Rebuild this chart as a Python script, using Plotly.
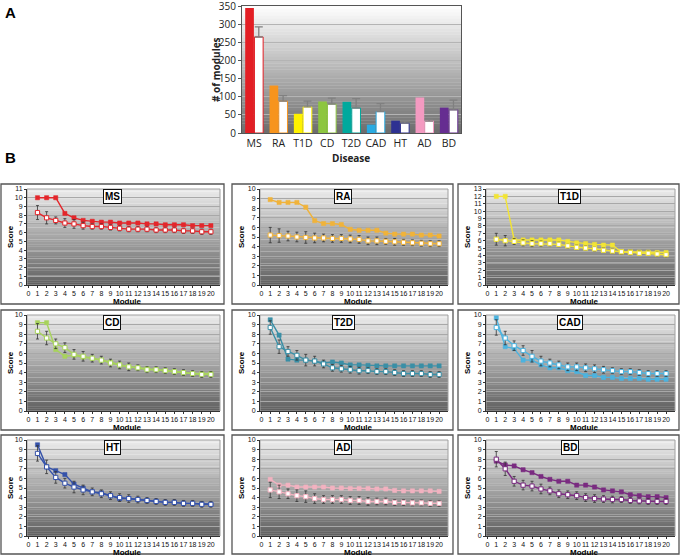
import plotly.graph_objects as go

W, H = 680, 556

# ---------------- Panel A data ----------------
diseases = ["MS", "RA", "T1D", "CD", "T2D", "CAD", "HT", "AD", "BD"]
observed_modules = [345, 131, 53, 87, 86, 23, 34, 98, 70]
random_modules = [265, 88, 72, 80, 69, 59, 27, 33, 64]
random_modules_err = [28, 15, 16, 16, 26, 22, 6, 5, 27]
y_ticks_a = [0, 50, 100, 150, 200, 250, 300, 350]
bar_colors = ["#e31e24", "#f7941d", "#fff200", "#8dc63f", "#00a99d",
              "#29abe2", "#2e3192", "#f49ac1", "#662d91"]

# ---------------- Panel B data ----------------
modules = list(range(1, 21))
x_ticks = list(range(0, 21))

ms_obs = [10, 10, 10, 8.2, 7.7, 7.4, 7.3, 7.2, 7.2, 7.1, 7.1, 7.1, 7.0, 7.0, 6.9, 6.9, 6.9, 6.8, 6.8, 6.8]
ms_rnd = [8.3, 7.7, 7.4, 7.1, 7.0, 6.8, 6.7, 6.7, 6.6, 6.5, 6.4, 6.4, 6.4, 6.3, 6.3, 6.3, 6.2, 6.2, 6.1, 6.1]
ms_err = [0.8, 0.7, 0.4, 0.5, 0.5, 0.4, 0.3, 0.3, 0.3, 0.3, 0.3, 0.3, 0.3, 0.3, 0.3, 0.3, 0.3, 0.3, 0.3, 0.3]

ra_obs = [8.9, 8.6, 8.6, 8.6, 8.1, 6.7, 6.4, 6.4, 6.3, 5.8, 5.7, 5.7, 5.7, 5.4, 5.3, 5.3, 5.3, 5.2, 5.2, 5.1]
ra_rnd = [5.2, 5.15, 5.1, 5.0, 4.95, 4.9, 4.9, 4.85, 4.85, 4.8, 4.75, 4.6, 4.6, 4.55, 4.5, 4.45, 4.4, 4.35, 4.3, 4.3]
ra_err = [0.8, 0.7, 0.5, 0.5, 0.6, 0.5, 0.4, 0.4, 0.4, 0.4, 0.4, 0.4, 0.4, 0.3, 0.35, 0.3, 0.3, 0.3, 0.3, 0.3]

t1d_obs = [12, 12, 6.1, 6.1, 6.1, 6.1, 6.1, 6.1, 5.9, 5.7, 5.6, 5.5, 5.4, 5.4, 4.5, 4.5, 4.45, 4.45, 4.4, 4.4]
t1d_rnd = [6.2, 6.0, 5.9, 5.7, 5.6, 5.6, 5.6, 5.5, 5.3, 5.1, 5.0, 4.9, 4.7, 4.6, 4.5, 4.4, 4.3, 4.3, 4.2, 4.1]
t1d_err = [0.8, 0.7, 0.4, 0.4, 0.4, 0.35, 0.3, 0.3, 0.3, 0.3, 0.3, 0.3, 0.3, 0.3, 0.3, 0.3, 0.3, 0.3, 0.3, 0.3]

cd_obs = [9.2, 9.2, 6.4, 5.7, 5.8, 5.6, 5.5, 5.3, 5.1, 4.8, 4.6, 4.5, 4.4, 4.3, 4.2, 4.1, 4.0, 3.9, 3.9, 3.9]
cd_rnd = [8.3, 7.6, 7.0, 6.6, 5.9, 5.7, 5.5, 5.3, 5.0, 4.8, 4.6, 4.5, 4.3, 4.3, 4.2, 4.1, 4.0, 3.9, 3.8, 3.8]
cd_err = [0.8, 0.7, 0.5, 0.5, 0.5, 0.5, 0.4, 0.4, 0.4, 0.4, 0.4, 0.3, 0.3, 0.3, 0.3, 0.3, 0.3, 0.3, 0.3, 0.3]

t2d_obs = [9.5, 7.9, 5.4, 5.3, 5.3, 5.2, 5.0, 5.1, 5.0, 4.8, 4.8, 4.75, 4.7, 4.7, 4.7, 4.7, 4.7, 4.7, 4.7, 4.7]
t2d_rnd = [8.7, 6.7, 6.2, 5.8, 5.3, 5.2, 4.9, 4.5, 4.4, 4.3, 4.2, 4.2, 4.1, 4.1, 4.0, 3.9, 3.9, 3.9, 3.8, 3.8]
t2d_err = [0.7, 0.7, 0.5, 0.5, 0.6, 0.5, 0.4, 0.35, 0.35, 0.35, 0.35, 0.3, 0.3, 0.3, 0.3, 0.3, 0.3, 0.3, 0.3, 0.3]

cad_obs = [9.7, 6.7, 6.5, 5.3, 5.3, 4.8, 4.5, 4.5, 4.2, 4.1, 3.7, 3.7, 3.5, 3.5, 3.4, 3.4, 3.4, 3.3, 3.3, 3.3]
cad_rnd = [8.7, 7.6, 6.8, 6.3, 5.7, 5.2, 5.0, 4.8, 4.6, 4.6, 4.5, 4.4, 4.3, 4.2, 4.1, 4.1, 4.0, 3.9, 3.9, 3.9]
cad_err = [0.8, 0.7, 0.5, 0.5, 0.6, 0.5, 0.4, 0.4, 0.4, 0.4, 0.4, 0.4, 0.35, 0.3, 0.3, 0.3, 0.3, 0.3, 0.3, 0.3]

ht_obs = [9.5, 7.2, 6.8, 6.4, 5.4, 5.0, 4.6, 4.5, 4.2, 3.9, 3.9, 3.8, 3.7, 3.6, 3.5, 3.5, 3.4, 3.4, 3.35, 3.3]
ht_rnd = [8.6, 7.2, 6.1, 5.5, 5.1, 4.8, 4.6, 4.4, 4.2, 4.0, 3.9, 3.8, 3.7, 3.6, 3.5, 3.5, 3.4, 3.4, 3.3, 3.3]
ht_err = [0.8, 0.7, 0.6, 0.5, 0.6, 0.5, 0.4, 0.4, 0.4, 0.4, 0.4, 0.35, 0.3, 0.3, 0.3, 0.3, 0.3, 0.3, 0.3, 0.3]

ad_obs = [5.9, 5.3, 5.3, 5.1, 5.1, 5.1, 5.1, 5.0, 5.0, 4.95, 4.95, 4.95, 4.9, 4.9, 4.75, 4.7, 4.7, 4.7, 4.7, 4.65]
ad_rnd = [4.8, 4.6, 4.4, 4.2, 4.1, 3.9, 3.8, 3.8, 3.8, 3.7, 3.7, 3.6, 3.6, 3.6, 3.5, 3.5, 3.45, 3.45, 3.4, 3.4]
ad_err = [0.8, 0.7, 0.5, 0.6, 0.6, 0.5, 0.4, 0.4, 0.4, 0.4, 0.4, 0.4, 0.35, 0.35, 0.3, 0.3, 0.3, 0.3, 0.3, 0.3]

bd_obs = [7.8, 7.4, 7.3, 6.9, 6.6, 6.2, 5.9, 5.7, 5.7, 5.3, 5.3, 5.1, 4.8, 4.7, 4.6, 4.3, 4.2, 4.1, 4.1, 4.0]
bd_rnd = [8.0, 7.0, 5.7, 5.3, 5.2, 4.9, 4.7, 4.4, 4.3, 4.2, 4.0, 3.9, 3.85, 3.8, 3.8, 3.7, 3.65, 3.6, 3.6, 3.6]
bd_err = [0.8, 0.7, 0.5, 0.5, 0.5, 0.5, 0.4, 0.4, 0.4, 0.4, 0.4, 0.4, 0.35, 0.35, 0.3, 0.3, 0.3, 0.3, 0.3, 0.3]

panel_names = ["MS", "RA", "T1D", "CD", "T2D", "CAD", "HT", "AD", "BD"]
panel_obs = [ms_obs, ra_obs, t1d_obs, cd_obs, t2d_obs, cad_obs, ht_obs, ad_obs, bd_obs]
panel_rnd = [ms_rnd, ra_rnd, t1d_rnd, cd_rnd, t2d_rnd, cad_rnd, ht_rnd, ad_rnd, bd_rnd]
panel_err = [ms_err, ra_err, t1d_err, cd_err, t2d_err, cad_err, ht_err, ad_err, bd_err]
panel_ymax = [11, 10, 13, 10, 10, 10, 10, 10, 10]
line_colors = ["#e4262b", "#f0b33a", "#f2e434", "#a8d35c", "#3a8fa6",
               "#4cb3df", "#3552aa", "#f2b2c0", "#7a2b80"]

# ---------------- layout geometry (pixels) ----------------
def xd(l, r):
    return [l / W, r / W]

def yd(t, b):
    return [1 - b / H, 1 - t / H]

fig = go.Figure()
shapes = []
annotations = []

def gradient(xr, yr, top, bot, n=40):
    for i in range(n):
        f = (i + 0.5) / n
        c = tuple(int(round(top[k] + (bot[k] - top[k]) * f)) for k in range(3))
        shapes.append(dict(type="rect", xref=xr, yref=yr, x0=0, x1=1,
                           y0=1 - i / n, y1=1 - (i + 1) / n - 0.002,
                           fillcolor="rgb(%d,%d,%d)" % c, line=dict(width=0),
                           layer="below"))

def label(text, px, py, size, family, angle=0, color="#000"):
    annotations.append(dict(text=text, x=px / W, y=1 - py / H, xref="paper", yref="paper",
                            xanchor="center", yanchor="middle", textangle=angle, showarrow=False,
                            font=dict(size=size, family=family, color=color)))

# ---------------- Panel A ----------------
fig.add_trace(go.Bar(x=diseases, y=observed_modules, marker=dict(color=bar_colors, line=dict(width=0)),
                     xaxis="x", yaxis="y", showlegend=False))
fig.add_trace(go.Bar(x=diseases, y=random_modules,
                     marker=dict(color="white", line=dict(color=bar_colors, width=1)),
                     error_y=dict(type="data", array=random_modules_err, arrayminus=[0] * 9,
                                  symmetric=False, color="#808080", thickness=1.3, width=4),
                     xaxis="x", yaxis="y", showlegend=False))
gradient("x domain", "y domain", (255, 255, 255), (108, 108, 108))

fontA = "Open Sans, Liberation Sans, Arial"
fig.update_layout(
    xaxis=dict(domain=xd(242, 461), anchor="y", showline=True, linecolor="#555", mirror=True,
               ticks="", tickfont=dict(size=10.5, family=fontA, color="#222"), showgrid=False,
               automargin=False, tickangle=0, ticklabeloverflow="allow"),
    yaxis=dict(domain=yd(6, 133), anchor="x", range=[0, 350.5], tickvals=y_ticks_a, showline=True,
               linecolor="#555", mirror=True, ticks="outside", ticklen=3, tickcolor="#555",
               tickfont=dict(size=10, family=fontA, color="#222"), showgrid=True,
               gridcolor="#b4b4b4", gridwidth=1, zeroline=False, automargin=False,
               ticklabeloverflow="allow"),
    barmode="group", bargap=0.24, bargroupgap=0.06,
)
label("<b># of modules</b>", 216, 70, 10, fontA, angle=-90, color="#222")
label("<b>Disease</b>", 351, 158, 10, fontA, color="#222")
label("<b>A</b>", 10, 13, 15, "Liberation Sans, Arial")
label("<b>B</b>", 10, 157, 15, "Liberation Sans, Arial")

# ---------------- Panel B ----------------
col_plot = [(27, 220), (260, 448), (486, 675)]
col_box = [(1, 224), (232, 453), (458, 679)]
row_plot = [(189, 285), (315, 411), (440, 536)]
row_box = [(184, 304), (310, 430), (435, 554)]
fontB = "Liberation Sans, Arial"

for i, name in enumerate(panel_names):
    r, c = divmod(i, 3)
    n = i + 2
    xa, ya = "x%d" % n, "y%d" % n
    col = line_colors[i]
    pl, pr = col_plot[c]
    pt, pb = row_plot[r]
    fig.add_trace(go.Scatter(x=modules, y=panel_obs[i], mode="lines+markers", xaxis=xa, yaxis=ya,
                             line=dict(color=col, width=1.4),
                             marker=dict(symbol="square", size=4.2, color=col,
                                         line=dict(color=col, width=0.5)),
                             showlegend=False))
    fig.add_trace(go.Scatter(x=modules, y=panel_rnd[i], mode="lines+markers", xaxis=xa, yaxis=ya,
                             line=dict(color=col, width=1.4),
                             marker=dict(symbol="square", size=4.2, color="white",
                                         line=dict(color=col, width=1)),
                             error_y=dict(type="data", array=panel_err[i], color="#333",
                                          thickness=0.8, width=1.5),
                             showlegend=False))
    gradient(xa + " domain", ya + " domain", (236, 236, 236), (96, 96, 96))
    shapes.append(dict(type="rect", xref=xa + " domain", yref=ya + " domain", x0=0, x1=1, y0=0, y1=1,
                       line=dict(color="#a0a0a0", width=1), fillcolor="rgba(0,0,0,0)", layer="below"))
    bl, br = col_box[c]
    bt, bb = row_box[r]
    shapes.append(dict(type="rect", xref="paper", yref="paper", x0=bl / W, x1=br / W,
                       y0=1 - bb / H, y1=1 - bt / H, line=dict(color="#555", width=1.3),
                       fillcolor="rgba(0,0,0,0)", layer="above"))
    fig.layout["xaxis%d" % n] = dict(domain=xd(pl, pr), anchor=ya, range=[-0.15, 21],
                                     tickvals=x_ticks, ticks="outside", ticklen=2, tickcolor="#333",
                                     showline=True, linecolor="#333", linewidth=1, showgrid=False,
                                     zeroline=False, tickangle=0, automargin=False,
                                     ticklabeloverflow="allow",
                                     tickfont=dict(size=7, family=fontB, color="#111"))
    fig.layout["yaxis%d" % n] = dict(domain=yd(pt, pb), anchor=xa, range=[0, panel_ymax[i]],
                                     dtick=1, ticks="outside", ticklen=2, tickcolor="#333",
                                     showline=True, linecolor="#333", linewidth=1, showgrid=True,
                                     gridcolor="#a8a8a8", gridwidth=0.8, zeroline=False,
                                     automargin=False, ticklabeloverflow="allow",
                                     tickfont=dict(size=7, family=fontB, color="#111"))
    annotations.append(dict(text="<b>%s</b>" % name, x=9.2, y=1, xref=xa, yref=ya + " domain",
                            xanchor="center", yanchor="top", showarrow=False, bgcolor="white",
                            bordercolor="#111", borderwidth=1, borderpad=1,
                            font=dict(size=10, family=fontB, color="#000")))
    label("<b>Score</b>", bl + 9, (pt + pb) / 2, 8, fontB, angle=-90)
    label("<b>Module</b>", (pl + pr) / 2 + 4, pb + 16, 8, fontB)

fig.update_layout(template="none", width=W, height=H, margin=dict(l=0, r=0, t=0, b=0),
                  paper_bgcolor="white", plot_bgcolor="rgba(0,0,0,0)",
                  shapes=shapes, annotations=annotations, showlegend=False)

fig.write_html("out.html", config={"displayModeBar": False},
               post_script="document.body.style.margin='0px';document.body.style.overflow='hidden';")
